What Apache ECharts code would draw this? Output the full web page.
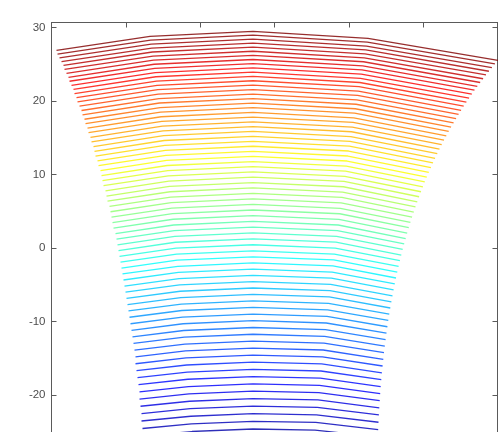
<!DOCTYPE html>
<html>
<head>
<meta charset="utf-8">
<script src="https://cdn.jsdelivr.net/npm/echarts@6/dist/echarts.min.js"></script>
<style>
html, body { margin: 0; padding: 0; background: #fff; }
#main { width: 500px; height: 432px; }
</style>
</head>
<body>
<div id="main"></div>
<script>
// five vertices per line: left end, left kink, middle, right kink, right end (top line first)
var leftX = [5,6,8,10,12,13,15,17,18,20, 22,23,25,26,28,30,31,33,34,36, 37,39,40,42,43,44,46,47,49,50,
    51,52,54,55,56,58,59,60,61,62, 64,65,66,67,68,69,70,71,72,73, 74,75,76,77,78,79,80,81,82,83,
    84,84,85,86,87,88,88,89,90,90, 91,92,92,93,94];
var leftY = [26.92,26.41,25.89,25.37,24.86,24.32,23.79,23.25,22.71,22.15, 21.60,21.04,20.47,19.89,19.32,18.73,18.13,17.54,16.94,16.32,
    15.71,15.09,14.46,13.82,13.18,12.53,11.88,11.22,10.55,9.87, 9.20,8.51,7.81,7.10,6.40,5.68,4.96,4.23,3.49,2.74,
    1.99,1.23,0.46,-0.32,-1.10,-1.90,-2.70,-3.50,-4.32,-5.15, -5.98,-6.82,-7.67,-8.53,-9.39,-10.27,-11.16,-12.05,-12.95,-13.87,
    -14.79,-15.71,-16.66,-17.61,-18.56,-19.53,-20.51,-21.49,-22.49,-23.50, -24.52,-25.54,-26.58,-27.64,-28.69];
var kinkLX = [98.5,99.1,99.7,100.3,100.9,101.5,102.0,102.6,103.2,103.8, 104.4,105.0,105.6,106.2,106.8,107.4,108.0,108.6,109.1,109.7,
    110.3,110.9,111.5,112.1,112.7,113.3,113.9,114.5,115.1,115.7, 116.2,116.8,117.4,118.0,118.6,119.2,119.8,120.4,121.0,121.6,
    122.2,122.8,123.3,123.9,124.5,125.1,125.7,126.3,126.9,127.5, 128.1,128.7,129.3,129.9,130.4,131.0,131.6,132.2,132.8,133.4,
    134.0,134.6,135.2,135.8,136.4,137.0,137.5,138.1,138.7,139.3, 139.9,140.5,141.1,141.7,142.3];
var kinkLY = [28.82,28.30,27.76,27.22,26.69,26.13,25.59,25.02,24.47,23.89, 23.32,22.74,22.16,21.56,20.97,20.36,19.75,19.13,18.52,17.88,
    17.25,16.61,15.97,15.31,14.65,13.98,13.31,12.63,11.94,11.25, 10.55,9.85,9.13,8.41,7.68,6.95,6.21,5.46,4.70,3.94,
    3.16,2.39,1.60,0.81,0.00,-0.81,-1.63,-2.46,-3.29,-4.14, -4.98,-5.85,-6.71,-7.59,-8.47,-9.37,-10.27,-11.19,-12.10,-13.04,
    -13.97,-14.92,-15.88,-16.85,-17.82,-18.81,-19.80,-20.81,-21.82,-22.85, -23.89,-24.93,-25.99,-27.06,-28.14];
var midX = 201.5;
var midY = [29.50,28.97,28.43,27.89,27.35,26.79,26.24,25.67,25.11,24.53, 23.95,23.37,22.78,22.18,21.58,20.97,20.35,19.73,19.11,18.47,
    17.83,17.19,16.54,15.88,15.21,14.54,13.87,13.18,12.49,11.79, 11.09,10.38,9.66,8.93,8.20,7.46,6.72,5.96,5.20,4.43,
    3.65,2.87,2.08,1.28,0.47,-0.35,-1.17,-2.00,-2.84,-3.69, -4.54,-5.41,-6.28,-7.16,-8.05,-8.95,-9.86,-10.78,-11.70,-12.64,
    -13.58,-14.53,-15.50,-16.47,-17.45,-18.44,-19.44,-20.45,-21.47,-22.50, -23.54,-24.59,-25.65,-26.73,-27.81];
var kinkRX = [316.5,315.8,315.0,314.3,313.5,312.8,312.0,311.3,310.5,309.8, 309.0,308.3,307.5,306.8,306.1,305.3,304.6,303.8,303.1,302.3,
    301.6,300.8,300.1,299.3,298.6,297.9,297.1,296.4,295.6,294.9, 294.1,293.4,292.6,291.9,291.1,290.4,289.6,288.9,288.2,287.4,
    286.7,285.9,285.2,284.4,283.7,282.9,282.2,281.4,280.7,279.9, 279.2,278.5,277.7,277.0,276.2,275.5,274.7,274.0,273.2,272.5,
    271.7,271.0,270.2,269.5,268.8,268.0,267.3,266.5,265.8,265.0, 264.3,263.5,262.8,262.0,261.3];
var kinkRY = [28.55,28.03,27.50,26.97,26.44,25.90,25.36,24.80,24.25,23.68, 23.11,22.54,21.97,21.38,20.79,20.19,19.58,18.97,18.37,17.74,
    17.11,16.48,15.84,15.19,14.53,13.88,13.22,12.54,11.86,11.17, 10.48,9.78,9.08,8.36,7.64,6.91,6.18,5.43,4.69,3.93,
    3.16,2.39,1.61,0.82,0.02,-0.79,-1.59,-2.41,-3.24,-4.08, -4.92,-5.78,-6.63,-7.50,-8.38,-9.27,-10.17,-11.08,-11.99,-12.91,
    -13.84,-14.78,-15.74,-16.70,-17.67,-18.65,-19.63,-20.63,-21.64,-22.66, -23.69,-24.73,-25.77,-26.84,-27.91];
var rightX = [446.5,443.4,440.4,437.4,434.5,431.6,428.7,425.8,423.0,420.3, 417.6,414.9,412.2,409.6,407.1,404.6,402.1,399.6,397.2,394.8,
    392.5,390.2,388.0,385.8,383.6,381.5,379.4,377.3,375.3,373.3, 371.4,369.5,367.6,365.8,364.0,362.3,360.6,358.9,357.3,355.7,
    354.2,352.7,351.2,349.8,348.4,347.1,345.8,344.5,343.3,342.1, 341.0,339.9,338.8,337.8,336.8,335.9,335.0,334.1,333.3,332.5,
    331.8,331.1,330.4,329.8,329.2,328.7,328.2,327.8,327.4,327.0, 326.7,326.4,326.1,325.9,325.8];
var rightY = [25.55,25.06,24.57,24.07,23.57,23.05,22.54,22.01,21.49,20.95, 20.41,19.87,19.32,18.76,18.20,17.63,17.05,16.47,15.89,15.29,
    14.69,14.09,13.48,12.86,12.23,11.60,10.97,10.32,9.67,9.01, 8.35,7.68,7.00,6.31,5.62,4.92,4.23,3.51,2.79,2.06,
    1.32,0.58,-0.17,-0.93,-1.70,-2.48,-3.26,-4.05,-4.85,-5.66, -6.47,-7.30,-8.13,-8.97,-9.82,-10.68,-11.55,-12.43,-13.31,-14.21,
    -15.11,-16.02,-16.95,-17.88,-18.82,-19.77,-20.73,-21.70,-22.68,-23.67, -24.67,-25.68,-26.69,-27.73,-28.77];

var yTicks = [-30, -20, -10, 0, 10, 20, 30];

// matlab jet colormap, t in [0,1]
function jet(t) {
    function c(v) {
        v = Math.max(0, Math.min(1, v));
        return Math.round(v * 255);
    }
    var r = c(1.5 - Math.abs(4 * t - 3));
    var g = c(1.5 - Math.abs(4 * t - 2));
    var b = c(1.5 - Math.abs(4 * t - 1));
    return 'rgb(' + r + ',' + g + ',' + b + ')';
}

var axisColor = '#5a5a5a';
var n = midY.length;
var series = [];
for (var i = 0; i < n; i++) {
    series.push({
        type: 'line',
        showSymbol: false,
        silent: true,
        clip: true,
        lineStyle: { color: jet(1 - i / (n - 1)), width: 1.3, opacity: 0.82 },
        data: [
            [leftX[i], leftY[i]],
            [kinkLX[i], kinkLY[i]],
            [midX, midY[i]],
            [kinkRX[i], kinkRY[i]],
            [rightX[i], rightY[i]]
        ]
    });
}

var yCommon = {
    type: 'value',
    min: yTicks[0],
    max: 30.7,
    interval: 10,
    splitLine: { show: false },
    axisLine: { show: true, lineStyle: { color: axisColor, width: 1 } },
    axisTick: { show: true, inside: true, length: 5, lineStyle: { color: axisColor } }
};

var option = {
    backgroundColor: '#fff',
    animation: false,
    grid: {
        left: 51.5, top: 22.5, width: 446, height: 446.3,
        containLabel: false,
        outerBoundsMode: 'none'
    },
    xAxis: {
        type: 'value',
        position: 'top',
        min: 0,
        max: 446,
        interval: 446 / 6,
        splitLine: { show: false },
        axisLine: { show: true, onZero: false, lineStyle: { color: axisColor, width: 1 } },
        axisTick: { show: true, inside: true, length: 5, lineStyle: { color: axisColor } },
        axisLabel: { show: false }
    },
    yAxis: [
        Object.assign({}, yCommon, {
            position: 'left',
            axisLabel: {
                color: '#4d4d4d',
                fontFamily: 'Liberation Sans',
                fontSize: 11.5,
                margin: 6,
                showMaxLabel: false
            }
        }),
        Object.assign({}, yCommon, {
            position: 'right',
            axisLabel: { show: false }
        })
    ],
    series: series
};

var myChart = echarts.init(document.getElementById('main'));
myChart.setOption(option);
</script>
</body>
</html>
